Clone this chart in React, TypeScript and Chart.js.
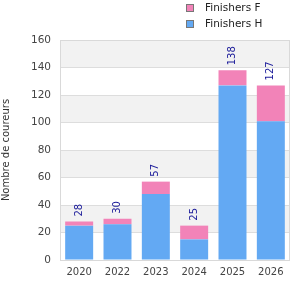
import React, { useEffect, useRef } from "react";
import { Chart, registerables } from "chart.js";

Chart.register(...registerables);

const years = ["2020", "2022", "2023", "2024", "2025", "2026"];
const finishersH = [25, 26, 48, 15, 127, 101];
const finishersF = [3, 4, 9, 10, 11, 26];
const totals = [28, 30, 57, 25, 138, 127];

const BLUE = "#63a9f3";
const PINK = "#f283b8";
const FONT = "'DejaVu Sans', sans-serif";

const bgPlugin = {
  id: "bgBands",
  beforeDraw(chart: any) {
    const { ctx, chartArea, scales } = chart;
    const y = scales.y;
    ctx.save();
    for (let v = 0; v < 160; v += 20) {
      const idx = v / 20;
      if (idx % 2 === 1) {
        const top = y.getPixelForValue(v + 20);
        const bot = y.getPixelForValue(v);
        ctx.fillStyle = "#f2f2f2";
        ctx.fillRect(chartArea.left, top, chartArea.right - chartArea.left, bot - top);
      }
    }
    ctx.restore();
  },
  afterDraw(chart: any) {
    const { ctx, chartArea } = chart;
    ctx.save();
    ctx.strokeStyle = "#d9d9d9";
    ctx.lineWidth = 1;
    ctx.strokeRect(chartArea.left + 0.5, chartArea.top + 0.5, chartArea.right - chartArea.left - 1, chartArea.bottom - chartArea.top);
    // data labels
    const metaTop = chart.getDatasetMeta(1);
    const y = chart.scales.y;
    ctx.fillStyle = "#1a1a99";
    ctx.font = `10px ${FONT}`;
    ctx.textAlign = "left";
    ctx.textBaseline = "middle";
    metaTop.data.forEach((bar: any, i: number) => {
      const yTop = y.getPixelForValue(totals[i]);
      ctx.save();
      ctx.translate(bar.x, yTop - 5);
      ctx.rotate(-Math.PI / 2);
      ctx.fillText(String(totals[i]), 0, 0);
      ctx.restore();
    });
    // legend
    const items = [
      { label: "Finishers F", color: PINK },
      { label: "Finishers H", color: BLUE },
    ];
    ctx.font = `10.5px ${FONT}`;
    ctx.textBaseline = "middle";
    items.forEach((it, i) => {
      const cy = 8 + i * 16;
      ctx.fillStyle = it.color;
      ctx.fillRect(186.5, cy - 3.5, 7, 7);
      ctx.strokeStyle = "#777";
      ctx.strokeRect(186.5, cy - 3.5, 7, 7);
      ctx.fillStyle = "#222";
      ctx.fillText(it.label, 205, cy + 0.5);
    });
    ctx.restore();
  },
};

export default function App() {
  const ref = useRef<HTMLCanvasElement>(null);
  useEffect(() => {
    document.body.style.margin = "0";
    const chart = new Chart(ref.current!, {
      type: "bar",
      data: {
        labels: years,
        datasets: [
          { label: "Finishers H", data: finishersH, backgroundColor: BLUE, barPercentage: 0.73, categoryPercentage: 1 },
          { label: "Finishers F", data: finishersF, backgroundColor: PINK, barPercentage: 0.73, categoryPercentage: 1 },
        ],
      },
      options: {
        responsive: false,
        animation: false,
        layout: { padding: { top: 40, right: 10, left: 0, bottom: 0 } },
        plugins: { legend: { display: false }, tooltip: { enabled: false } },
        scales: {
          x: {
            stacked: true,
            grid: { display: false, drawTicks: false },
            border: { display: false },
            ticks: { color: "#444", font: { family: FONT, size: 10 }, padding: 6 },
            afterFit: (s: any) => { s.height = 40; },
          },
          y: {
            stacked: true,
            min: 0,
            max: 160,
            grid: { color: "#dddddd", drawTicks: false },
            border: { display: false },
            ticks: { stepSize: 20, color: "#444", font: { family: FONT, size: 10.5 }, padding: 9 },
            title: { display: true, text: "Nombre de coureurs", color: "#333", font: { family: FONT, size: 10 }, padding: 0 },
            afterFit: (s: any) => { s.width = 60; },
          },
        },
      },
      plugins: [bgPlugin],
    });
    return () => chart.destroy();
  }, []);
  return <canvas ref={ref} width={300} height={300} style={{ display: "block" }} />;
}
